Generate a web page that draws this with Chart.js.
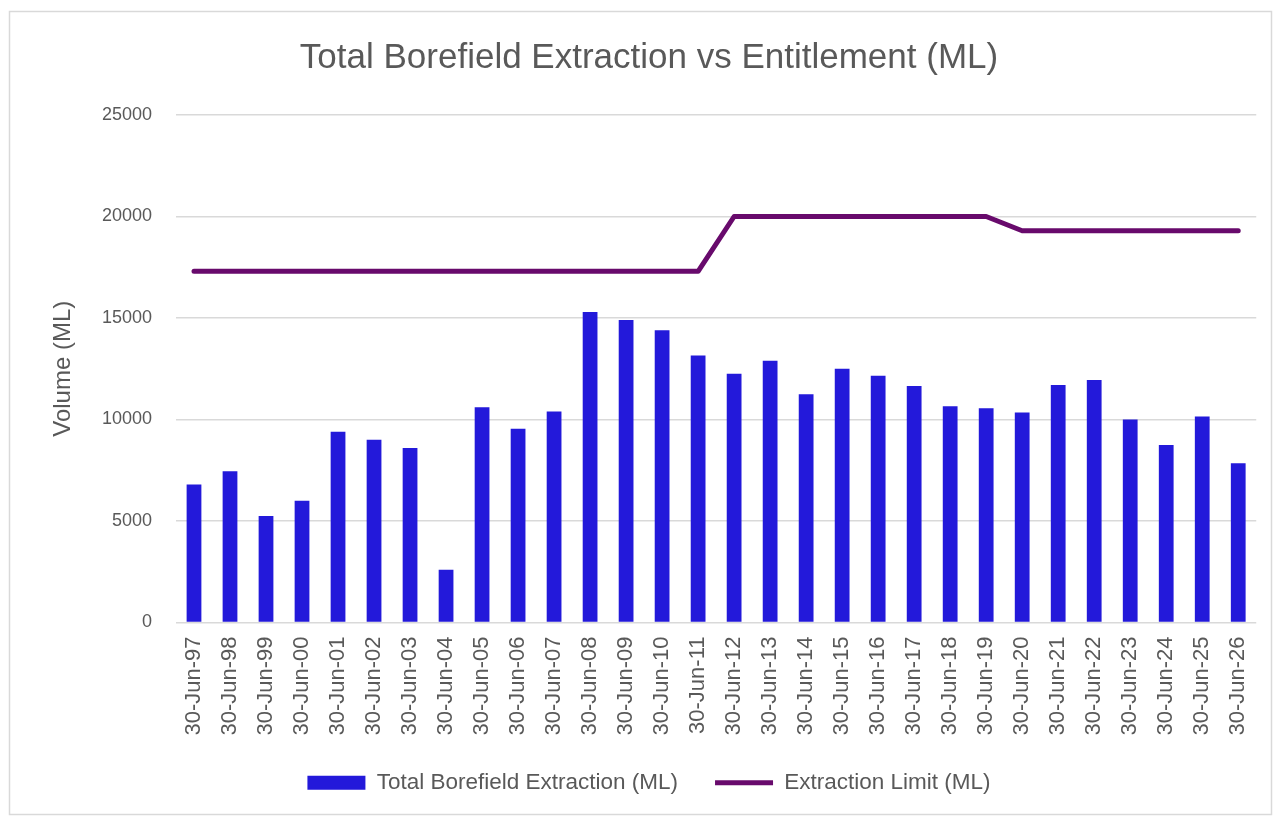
<!DOCTYPE html>
<html>
<head>
<meta charset="utf-8">
<script src="https://cdn.jsdelivr.net/npm/chart.js@4.4.1/dist/chart.umd.min.js"></script>
<style>
  html, body { margin: 0; padding: 0; background: #fff; }
  canvas { display: block; }
</style>
</head>
<body>
<canvas id="myChart" width="1279" height="819"></canvas>
<script>
// Dados do gráfico
var years = ['97', '98', '99', '00', '01', '02', '03', '04', '05', '06', '07', '08', '09', '10', '11',
             '12', '13', '14', '15', '16', '17', '18', '19', '20', '21', '22', '23', '24', '25', '26'];
var dateLabels = years.map(function (y) { return '30-Jun-' + y; });

var extraction = [6800, 7450, 5250, 6000, 9400, 9000, 8600, 2600, 10600, 9550, 10400, 15300, 14900, 14400, 13150,
                  12250, 12900, 11250, 12500, 12150, 11650, 10650, 10550, 10350, 11700, 11950, 10000, 8750, 10150, 7850];

var extractionLimit = [17300, 17300, 17300, 17300, 17300, 17300, 17300, 17300, 17300, 17300, 17300, 17300, 17300, 17300, 17300,
                       20000, 20000, 20000, 20000, 20000, 20000, 20000, 20000, 19300, 19300, 19300, 19300, 19300, 19300, 19300];

var yTicks = [0, 5000, 10000, 15000, 20000, 25000];

var fontFamily = "'Liberation Sans', Arial, sans-serif";
var textColor = '#595959';

// moldura cinza e fundo branco
var frame = {
    id: 'frame',
    beforeDraw: function (chart) {
        var c = chart.ctx;
        c.save();
        c.fillStyle = '#ffffff';
        c.fillRect(0, 0, chart.width, chart.height);
        c.strokeStyle = '#d9d9d9';
        c.lineWidth = 1.5;
        c.strokeRect(9.5, 11.5, 1262, 803);
        c.restore();
    }
};

var config = {
    data: {
        labels: dateLabels,
        datasets: [{
            type: 'line',
            label: 'Extraction Limit (ML)',
            data: extractionLimit,
            borderColor: '#680a6c',
            backgroundColor: '#680a6c',
            borderWidth: 5,
            borderCapStyle: 'round',
            borderJoinStyle: 'round',
            pointRadius: 0,
            pointStyle: 'line',
            tension: 0,
            order: 1
        }, {
            type: 'bar',
            label: 'Total Borefield Extraction (ML)',
            data: extraction,
            backgroundColor: '#2319da',
            borderWidth: 0,
            barPercentage: 0.41,
            categoryPercentage: 1,
            order: 2
        }]
    },
    options: {
        responsive: false,
        animation: false,
        layout: {
            padding: { left: 41, right: 22, top: 12, bottom: 15 }
        },
        plugins: {
            title: {
                display: true,
                text: 'Total Borefield Extraction vs Entitlement (ML)',
                color: textColor,
                font: { family: fontFamily, size: 35, weight: 'normal' },
                padding: { top: 25, bottom: 36 }
            },
            legend: {
                position: 'bottom',
                reverse: true,
                labels: {
                    color: textColor,
                    font: { family: fontFamily, size: 22.5 },
                    usePointStyle: true,
                    pointStyleWidth: 58,
                    boxHeight: 14,
                    padding: 37,
                    generateLabels: function (chart) {
                        var items = Chart.defaults.plugins.legend.labels.generateLabels(chart);
                        items.forEach(function (it) {
                            var ds = chart.data.datasets[it.datasetIndex];
                            if (ds.type === 'bar') {
                                it.pointStyle = 'rect';
                                it.lineWidth = 0;
                            } else {
                                it.pointStyle = 'line';
                                it.lineWidth = 5;
                            }
                        });
                        return items;
                    }
                }
            },
            tooltip: { enabled: false }
        },
        scales: {
            x: {
                offset: true,
                grid: { display: false, drawTicks: false },
                border: { display: false },
                ticks: {
                    color: textColor,
                    font: { family: fontFamily, size: 22 },
                    minRotation: 90,
                    maxRotation: 90,
                    autoSkip: false,
                    padding: 14
                },
                afterFit: function (scale) { scale.height = 112; }
            },
            y: {
                min: 0,
                max: 25000,
                afterBuildTicks: function (scale) {
                    scale.ticks = yTicks.map(function (v) { return { value: v }; });
                },
                grid: { color: '#d9d9d9', lineWidth: 1.5, drawTicks: false },
                border: { display: false },
                ticks: {
                    color: textColor,
                    font: { family: fontFamily, size: 18 },
                    padding: 24,
                    callback: function (v) { return String(v); }
                },
                title: {
                    display: true,
                    text: 'Volume (ML)',
                    color: textColor,
                    font: { family: fontFamily, size: 24 },
                    padding: { top: 8, bottom: 0 }
                },
                afterFit: function (scale) { scale.width = 135; }
            }
        }
    },
    plugins: [frame]
};

var ctx = document.getElementById('myChart').getContext('2d');
new Chart(ctx, config);
</script>
</body>
</html>
